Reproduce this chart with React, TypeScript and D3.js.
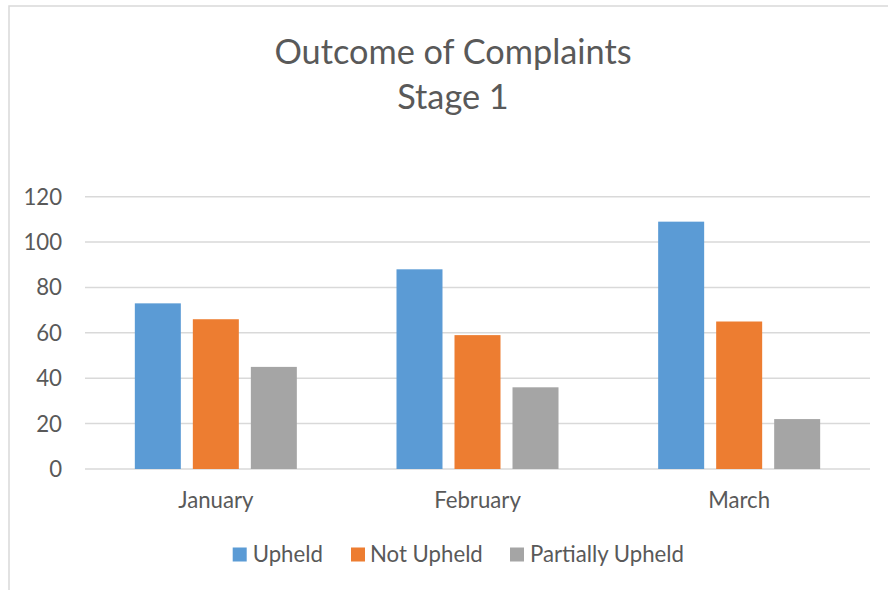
import React from "react";
import * as d3 from "d3";

const months = ["January", "February", "March"];
const seriesNames = ["Upheld", "Not Upheld", "Partially Upheld"];
const upheld = [73, 88, 109];
const notUpheld = [66, 59, 65];
const partiallyUpheld = [45, 36, 22];
const yTicks = [0, 20, 40, 60, 80, 100, 120];
const colors = ["#5b9bd5", "#ed7d31", "#a5a5a5"];
const titleLines = ["Outcome of Complaints", "Stage 1"];

const W = 888;
const H = 590;
const FONT = "Lato, Carlito, 'Open Sans', sans-serif";

export default function App() {
  const plotLeft = 85;
  const plotRight = 870;
  const plotTop = 196.7;
  const plotBottom = 469;

  const x0 = d3.scaleBand<string>().domain(months).range([plotLeft, plotRight]).padding(0);
  const x1 = d3
    .scaleBand<string>()
    .domain(seriesNames)
    .range([0, x0.bandwidth()])
    .paddingInner(0.207)
    .paddingOuter(0.859);
  const y = d3.scaleLinear().domain([0, 120]).range([plotBottom, plotTop]);

  const values = [upheld, notUpheld, partiallyUpheld];

  const legendItems = [
    { name: seriesNames[0], sx: 232.7, tx: 252.7 },
    { name: seriesNames[1], sx: 351, tx: 370 },
    { name: seriesNames[2], sx: 510, tx: 530 },
  ];

  return (
    <svg
      width={W}
      height={H}
      style={{ position: "fixed", left: 0, top: 0, background: "#fff" }}
      fontFamily={FONT}
    >
      <rect x={0} y={0} width={W} height={H} fill="#fff" />
      <rect x={9} y={6} width={W + 20} height={H + 20} fill="none" stroke="#d9d9d9" strokeWidth={1.5} />
      {titleLines.map((t, i) => (
        <text key={t} x={453} y={64 + i * 45} textAnchor="middle" fontSize={34.3} fill="#595959">
          {t}
        </text>
      ))}
      {yTicks.map((v) => (
        <g key={v}>
          <line x1={plotLeft} x2={plotRight} y1={y(v)} y2={y(v)} stroke="#d9d9d9" strokeWidth={1.5} />
          <text x={62} y={y(v)} dy="0.36em" textAnchor="end" fontSize={22.2} fill="#595959">
            {v}
          </text>
        </g>
      ))}
      {months.map((m, mi) => (
        <g key={m}>
          {seriesNames.map((s, si) => (
            <rect
              key={s}
              x={(x0(m) as number) + (x1(s) as number)}
              y={y(values[si][mi])}
              width={x1.bandwidth()}
              height={plotBottom - y(values[si][mi])}
              fill={colors[si]}
            />
          ))}
          <text
            x={(x0(m) as number) + x0.bandwidth() / 2}
            y={508}
            textAnchor="middle"
            fontSize={22.2}
            fill="#595959"
          >
            {m}
          </text>
        </g>
      ))}
      {legendItems.map((it, i) => (
        <g key={it.name}>
          <rect x={it.sx} y={547.5} width={14} height={14} fill={colors[i]} />
          <text x={it.tx} y={561.5} fontSize={22.2} fill="#595959">
            {it.name}
          </text>
        </g>
      ))}
    </svg>
  );
}
